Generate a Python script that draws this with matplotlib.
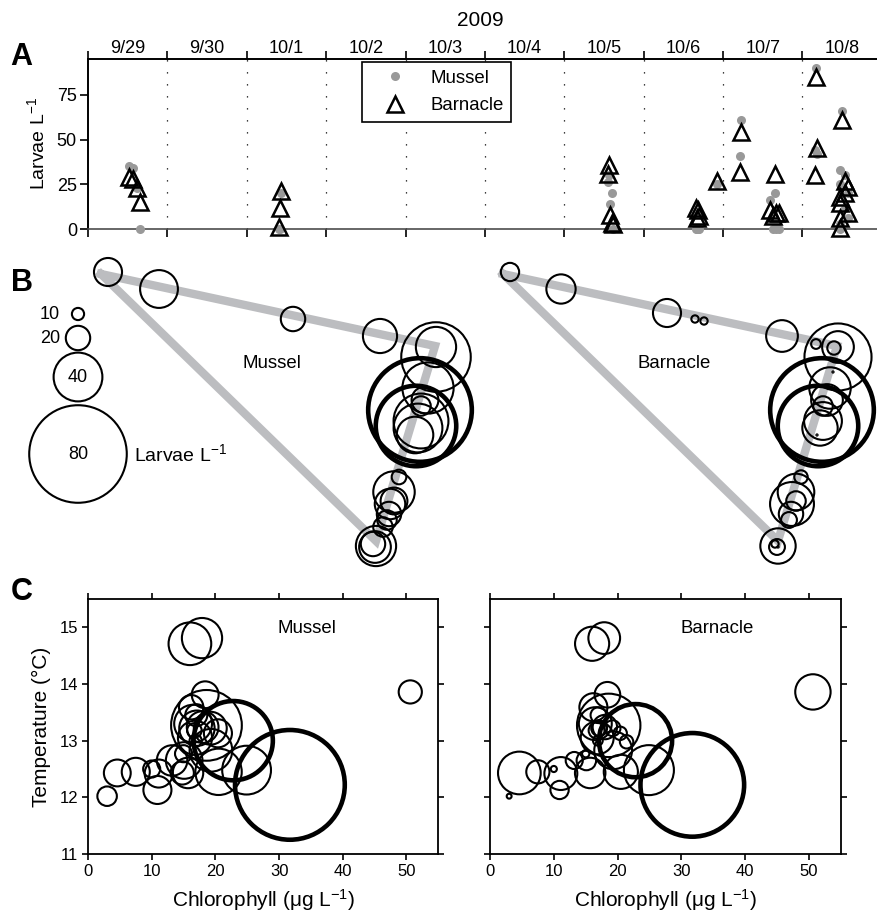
import numpy as np
import matplotlib.pyplot as plt
from matplotlib.lines import Line2D
from matplotlib.ticker import NullFormatter

plt.rcParams['font.family'] = 'Liberation Sans'
plt.rcParams['mathtext.fontset'] = 'custom'
plt.rcParams['mathtext.rm'] = 'Liberation Sans'
plt.rcParams['mathtext.it'] = 'Liberation Sans:italic'
plt.rcParams['mathtext.bf'] = 'Liberation Sans:bold'

# --- A: larvae per sample, time in days since 9/29 00:00 ---
day_labels = ['9/29', '9/30', '10/1', '10/2', '10/3', '10/4', '10/5', '10/6', '10/7', '10/8']
a_time = [0.52, 0.57, 0.62, 0.66, 2.43, 2.42, 2.40, 6.56, 6.55, 6.57, 6.60, 6.62,
          7.66, 7.69, 7.67, 7.70, 7.92, 8.23, 8.21, 8.66, 8.59, 8.67, 8.71, 8.63,
          9.17, 9.18, 9.16, 9.50, 9.54, 9.57, 9.54, 9.47, 9.47, 9.57, 9.47, 9.48]
a_mussel = [35, 34, 23, 0, 20, 0, 0, 30, 26, 14, 20, 0,
            0, 0, 0, 0, 25, 61, 41, 20, 16, 0, 0, 0,
            90, 42, 44, 66, 30, 20, 12, 33, 25, 6, 3, 0]
a_barnacle = [29, 28, 23, 15, 21, 12, 1, 36, 31, 8, 3.5, 2.8,
              11.5, 10.5, 6, 7.5, 27, 54, 32, 31, 10.5, 9, 9, 7,
              85, 45, 30, 61, 27, 23.5, 20, 18, 14.5, 9, 6, 0.5]

# --- B: sample positions along the track (schematic units) ---
track_x = [13, 347, 288, 13]
track_y = [6, 78, 273, 6]
b_x = [20, 71, 177, 205, 214, 292, 326, 348, 344, 348, 332, 328, 340, 337, 333,
       333, 330, 327, 343, 311, 306, 306, 302, 301, 299, 295, 288, 287, 285, 288]
b_y = [4, 21, 45, 51, 53, 68, 76, 79, 80, 89, 142, 158, 120, 132, 138,
       153, 160, 167, 104, 209, 224, 233, 236, 246, 252, 259, 278, 279, 276, 279]
b_mussel = [23, 31, 0, 20, 0, 28, 0, 33, 0, 57, 85, 66, 42, 22, 16,
            45, 40, 30, 0, 12, 34, 22, 25, 20, 16, 16, 33, 26, 20, 0]
b_barnacle = [15, 24, 23, 6, 6, 26, 8, 26, 11, 55, 85, 66, 34, 26, 16,
              31, 29, 1, 1, 11, 30, 16, 36, 20, 13, 0, 29, 13, 6, 1]
key_values = [10, 20, 40, 80]

# --- C: chlorophyll vs temperature ---
chl = [3.0, 4.6, 7.5, 10.0, 11.1, 10.9, 13.2, 14.8, 15.7, 15.0, 16.0, 17.9, 18.4, 18.6,
       22.8, 20.5, 24.9, 31.7, 50.6, 16.5, 17.1, 18.0, 19.2, 20.4, 16.8, 19.3, 15.1,
       16.2, 16.7, 21.4, 17.0, 16.9]
temp = [12.02, 12.43, 12.45, 12.50, 12.42, 12.13, 12.65, 12.43, 12.43, 12.77, 14.71,
        14.81, 13.81, 13.27, 13.00, 12.45, 12.48, 12.22, 13.86, 13.30, 13.22, 13.24,
        13.22, 13.13, 13.05, 12.83, 12.65, 13.59, 13.18, 12.98, 13.45, 13.00]
c_mussel = [16, 22, 23, 14, 23, 23, 25, 19, 25, 14, 35, 33, 22, 58,
            65, 38, 40, 90, 19, 31, 29, 26, 27, 23, 28, 35, 30,
            20, 12, 0, 18, 10]
c_barnacle = [4, 35, 19, 5, 27, 15, 14, 0, 25, 6, 28, 26, 21, 52,
              60, 28, 41, 85, 29, 27, 13, 20, 13, 11, 27, 31, 16,
              23, 13, 11, 13, 8]


def bubbles(ax, x, y, v, clip=True, bold=True):
    x, y, v = np.asarray(x, float), np.asarray(y, float), np.asarray(v, float)
    keep = v > 0
    x, y, v = x[keep], y[keep], v[keep]
    s = (0.878 * v) ** 2          # marker diameter grows linearly with larvae
    lw = np.where((v >= 59) & bold, 3.3, 1.5)
    ax.scatter(x, y, s=s, facecolors='none', edgecolors='k', linewidths=lw,
               clip_on=clip, zorder=3)


W, H = 877, 921
fig = plt.figure(figsize=(8.77, 9.21), dpi=100)

# ---------------- A ----------------
axA = fig.add_axes([88 / W, 1 - 229 / H, (W - 88) / W, 170 / H])
axA.set_xlim(0, 9.94)
axA.set_ylim(0, 95)
for d in range(1, 10):
    axA.axvline(d, color='k', lw=0.9, ls=(0, (1, 8.6)), zorder=1)
axA.plot(a_time, a_mussel, 'o', color='#999999', ms=6.5, mec='none',
         clip_on=False, zorder=3)
axA.plot(a_time, a_barnacle, '^', mfc='none', mec='k', mew=1.8, ms=11,
         clip_on=False, zorder=4)
axA.spines['right'].set_visible(False)
axA.spines['top'].set_linewidth(1.4)
axA.spines['left'].set_linewidth(1.4)
axA.spines['bottom'].set_linewidth(1.2)
axA.spines['bottom'].set_color('0.3')
axA.set_xticks(range(10))
axA.set_xticks(np.arange(10) + 0.5, minor=True)
axA.set_xticklabels(day_labels, minor=True)
axA.xaxis.set_major_formatter(NullFormatter())
axA.tick_params(axis='x', which='major', top=True, bottom=True, direction='out',
                length=5.5, width=1.2, labelbottom=False, labeltop=False)
axA.tick_params(axis='x', which='minor', top=True, bottom=False, length=0,
                labeltop=True, labelbottom=False, labelsize=13, pad=1.5)
axA.set_yticks([0, 25, 50, 75])
axA.tick_params(axis='y', direction='out', length=6, width=1.2, labelsize=13, pad=2)
axA.set_ylabel('Larvae L$^{-1}$', fontsize=14, labelpad=6)

handles = [Line2D([], [], ls='none', marker='o', color='#999999', ms=6.5, mec='none'),
           Line2D([], [], ls='none', marker='^', mfc='none', mec='k', mew=1.8, ms=11)]
leg = fig.legend(handles, ['Mussel', 'Barnacle'], loc='upper left',
                 bbox_to_anchor=(362 / W, 1 - 62 / H), frameon=True, fancybox=False,
                 edgecolor='k', fontsize=13.4, borderpad=0.41, labelspacing=0.56,
                 handletextpad=0.55, handlelength=2.7, borderaxespad=0)
leg.get_frame().set_linewidth(1.2)
leg.get_frame().set_alpha(1)

fig.text(480 / W, 1 - 20 / H, '2009', ha='center', va='center', fontsize=15)

# ---------------- B ----------------
axBL = fig.add_axes([30 / W, 1 - 575 / H, 440 / W, 323 / H])
axBL.set_xlim(-58, 382)
axBL.set_ylim(307, -16)
axBR = fig.add_axes([470 / W, 1 - 575 / H, 407 / W, 323 / H])
axBR.set_xlim(-20, 387)
axBR.set_ylim(307, -16)
for ax, vals, name in [(axBL, b_mussel, 'Mussel'), (axBR, b_barnacle, 'Barnacle')]:
    ax.axis('off')
    ax.plot(track_x, track_y, color='#bcbdc0', lw=6, solid_joinstyle='miter', zorder=1)
    bubbles(ax, b_x, b_y, vals, clip=False)
    ax.text(184, 95, name, ha='center', va='center', fontsize=13.4)

# size key
key_y = [46, 70, 109, 186]
bubbles(axBL, [-10] * 4, key_y, key_values, clip=False, bold=False)
axBL.text(-38, key_y[0], '10', ha='center', va='center', fontsize=13)
axBL.text(-38, key_y[1], '20', ha='center', va='center', fontsize=13)
axBL.text(-10, key_y[2], '40', ha='center', va='center', fontsize=13)
axBL.text(-10, key_y[3], '80', ha='center', va='center', fontsize=13)
axBL.text(46, key_y[3], 'Larvae L$^{-1}$', ha='left', va='center', fontsize=14)

# ---------------- C ----------------
axCL = fig.add_axes([88 / W, 1 - 854 / H, 350.3 / W, 255 / H])
axCR = fig.add_axes([490 / W, 1 - 854 / H, 351 / W, 255 / H])
for ax, vals, name, tx in [(axCL, c_mussel, 'Mussel', 0.624),
                           (axCR, c_barnacle, 'Barnacle', 0.646)]:
    bubbles(ax, chl, temp, vals)
    ax.set_xlim(0, 55)
    ax.set_ylim(11, 15.5)
    ax.set_xticks([0, 10, 20, 30, 40, 50])
    ax.set_yticks([11, 12, 13, 14, 15])
    ax.tick_params(direction='out', top=True, right=True, length=4, width=1.2,
                   labelsize=12, pad=3)
    for sp in ax.spines.values():
        sp.set_linewidth(1.3)
    ax.set_xlabel('Chlorophyll (μg L$^{-1}$)', fontsize=15, labelpad=6)
    ax.text(tx, 0.885, name, transform=ax.transAxes, ha='center', va='center',
            fontsize=13.4)
axCL.set_ylabel('Temperature (°C)', fontsize=15, labelpad=6)
axCR.tick_params(labelleft=False)

# panel letters
for letter, py in [('A', 56.7), ('B', 283.3), ('C', 591.7)]:
    fig.text(21.7 / W, 1 - py / H, letter, ha='center', va='center',
             fontsize=22, fontweight='bold')

fig.savefig('out.png', dpi=100)
